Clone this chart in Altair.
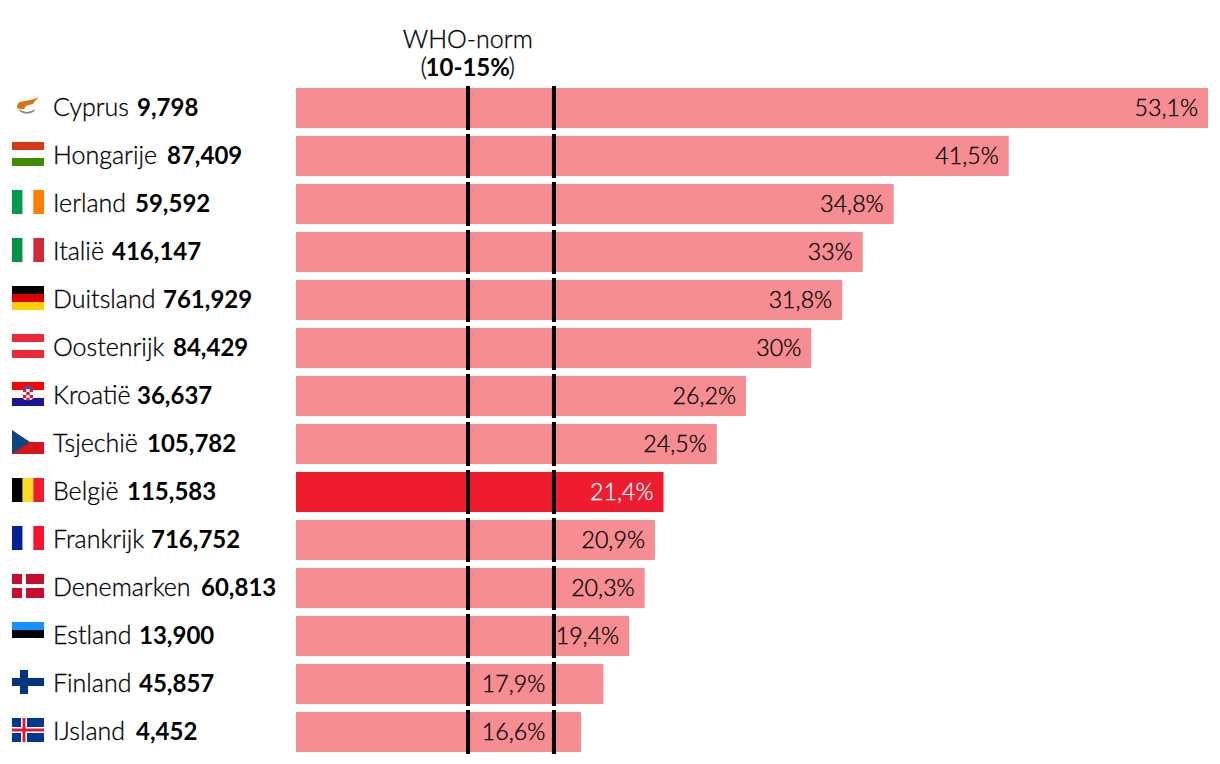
import base64
import altair as alt
import pandas as pd

countries = ["Cyprus", "Hongarije", "Ierland", "Italië", "Duitsland", "Oostenrijk", "Kroatië",
             "Tsjechië", "België", "Frankrijk", "Denemarken", "Estland", "Finland", "IJsland"]
numbers = ["9,798", "87,409", "59,592", "416,147", "761,929", "84,429", "36,637",
           "105,782", "115,583", "716,752", "60,813", "13,900", "45,857", "4,452"]
values = [53.1, 41.5, 34.8, 33, 31.8, 30, 26.2, 24.5, 21.4, 20.9, 20.3, 19.4, 17.9, 16.6]
pct_labels = ["53,1%", "41,5%", "34,8%", "33%", "31,8%", "30%", "26,2%", "24,5%", "21,4%",
              "20,9%", "20,3%", "19,4%", "17,9%", "16,6%"]
who_norm = [10, 15]

# layout only: left edge of the bold number in each row, plot pixels
number_x = [129, 159, 127, 104, 155, 165, 129, 139, 119, 143, 193, 131, 131, 128]

PALE, STRONG = "#f68d92", "#ef1b2f"
FONT = "Lato"
INK = "#000000"


def stripes_h(*c):
    h = 24 / len(c)
    return "".join(f'<rect y="{i*h}" width="32" height="{h}" fill="{k}"/>' for i, k in enumerate(c))


def stripes_v(*c):
    w = 32 / len(c)
    return "".join(f'<rect x="{i*w}" width="{w}" height="24" fill="{k}"/>' for i, k in enumerate(c))


flags_svg = {
    "Cyprus": '<path d="M5 12 L7 8 L13 7 L18 6 L22 5 L27 3 L23 7 L21 10 L17 11 L14 12 L12 15 L8 15 L5 14 Z" fill="#d9760f"/>'
              '<path d="M7 15 Q15 21 23 15 L22 17.5 Q15 22 8 17.5 Z" fill="#7d9070"/>',
    "Hongarije": stripes_h("#d63a17", "#ffffff", "#3f8b00"),
    "Ierland": stripes_v("#009a49", "#ffffff", "#ff7f00"),
    "Italië": stripes_v("#009246", "#ffffff", "#ce2b37"),
    "Duitsland": stripes_h("#000000", "#dd0000", "#ffce00"),
    "Oostenrijk": stripes_h("#ed2939", "#ffffff", "#ed2939"),
    "Kroatië": stripes_h("#ff0000", "#ffffff", "#171796")
               + '<rect x="11" y="4" width="10" height="4" fill="#3a5aa8"/>'
                 '<rect x="11" y="7" width="10" height="11" rx="3" fill="#ffffff"/>'
                 '<path d="M11 7h3.3v3h-3.3zM17.6 7h3.4v3h-3.4zM14.3 10h3.3v3h-3.3zM11 13h3.3v3h-3.3zM17.6 13h3.4v3h-3.4zM14.3 16h3.3v2.4h-3.3z" fill="#e8112d"/>',
    "Tsjechië": '<rect width="32" height="12" fill="#ffffff"/><rect y="12" width="32" height="12" fill="#d7141a"/>'
                '<path d="M0 0 L18 12 L0 24 Z" fill="#11457e"/>',
    "België": stripes_v("#000000", "#fdda24", "#ef1b2f"),
    "Frankrijk": stripes_v("#002395", "#ffffff", "#f5142f"),
    "Denemarken": '<rect width="32" height="24" fill="#c60c30"/><rect x="10" width="4" height="24" fill="#fff"/>'
                  '<rect y="10" width="32" height="4" fill="#fff"/>',
    "Estland": stripes_h("#1291ff", "#000000", "#ffffff"),
    "Finland": '<rect width="32" height="24" fill="#fff"/><rect x="8" width="8" height="24" fill="#003580"/>'
               '<rect y="8" width="32" height="8" fill="#003580"/>',
    "IJsland": '<rect width="32" height="24" fill="#02378f"/><rect x="9" width="6" height="24" fill="#fff"/>'
               '<rect y="9" width="32" height="6" fill="#fff"/><rect x="10.5" width="3" height="24" fill="#dc1e35"/>'
               '<rect y="10.5" width="32" height="3" fill="#dc1e35"/>',
}


def uri(body):
    svg = f'<svg xmlns="http://www.w3.org/2000/svg" width="32" height="24" viewBox="0 0 32 24">{body}</svg>'
    return "data:image/svg+xml;base64," + base64.b64encode(svg.encode()).decode()


df = pd.DataFrame({
    "land": countries,
    "aantal": numbers,
    "waarde": values,
    "label": pct_labels,
    "nx": number_x,
    "vlag": [uri(flags_svg[c]) for c in countries],
})
# Labels of bars ending just past the norm sit left of the 15% line.
df["anker"] = [v if v >= 19 else 15.1 for v in values]
df["kleur"] = [STRONG if c == "België" else PALE for c in countries]
df["tekst"] = ["#ffffff" if c == "België" else INK for c in countries]

x_scale = alt.Scale(domain=[0, 53.1], range=[288, 1200])
y_scale = alt.Scale(domain=countries, range=[76, 748], paddingInner=1 / 6, paddingOuter=1 / 12)
Y = alt.Y("land:N", scale=y_scale, axis=None, sort=None, title=None)

base = alt.Chart(df).encode(y=Y)

bars = base.mark_bar(size=40).encode(x=alt.X("waarde:Q", scale=x_scale, axis=None, title=None),
                                     x2=alt.value(288), color=alt.Color("kleur:N", scale=None, legend=None))

norm_df = pd.DataFrame([{"land": c, "norm": n} for c in countries for n in who_norm])
ticks = alt.Chart(norm_df).mark_tick(orient="vertical", thickness=4, size=44, color="#000000", opacity=1, xOffset=0.3).encode(
    x=alt.X("norm:Q", scale=x_scale, axis=None, title=None), y=Y)

light = dict(font=FONT, fontSize=25, fontWeight=300, baseline="alphabetic", stroke=INK, strokeWidth=0.3)
light_pct = dict(font=FONT, fontSize=23.2, fontWeight=300, baseline="alphabetic", strokeWidth=0.3)
strong = dict(font=FONT, fontSize=24, fontWeight="bold", baseline="alphabetic")

pct = base.mark_text(align="right", dx=-10, dy=8, **light_pct).encode(
    x=alt.X("anker:Q", scale=x_scale, axis=None, title=None), text="label:N",
    color=alt.Color("tekst:N", scale=None, legend=None),
    stroke=alt.Stroke("tekst:N", scale=None, legend=None))

names = base.mark_text(align="left", dy=8, color=INK, **light).encode(x=alt.value(45), text="land:N")
nums = base.mark_text(align="left", dy=8, color=INK, **strong).encode(
    x=alt.X("nx:Q", scale=None, axis=None, title=None), text="aantal:N")
flags = base.mark_image(width=32, height=24, yOffset=-2).encode(x=alt.value(20), url="vlag:N")

head_df = pd.DataFrame({"x": [who_norm[0]], "a": ["WHO-norm"], "b": ["10-15%"], "o": ["("], "c": [")"]})
hx = alt.X("x:Q", scale=x_scale, axis=None, title=None)
h1 = alt.Chart(head_df).mark_text(color=INK, **light).encode(x=hx, y=alt.value(40), text="a:N")
h2 = alt.Chart(head_df).mark_text(color=INK, **strong).encode(x=hx, y=alt.value(68), text="b:N")
h3 = alt.Chart(head_df).mark_text(color=INK, dx=-44, **light).encode(x=hx, y=alt.value(68), text="o:N")
h4 = alt.Chart(head_df).mark_text(color=INK, dx=44, **light).encode(x=hx, y=alt.value(68), text="c:N")

chart = alt.layer(bars, ticks, pct, names, nums, flags, h1, h2, h3, h4).properties(
    width=1204, height=750, padding=0, autosize=alt.AutoSizeParams(type="none"), background="#ffffff"
).configure_view(stroke=None)

chart.save("out.html", embed_options={"renderer": "svg", "actions": False})
